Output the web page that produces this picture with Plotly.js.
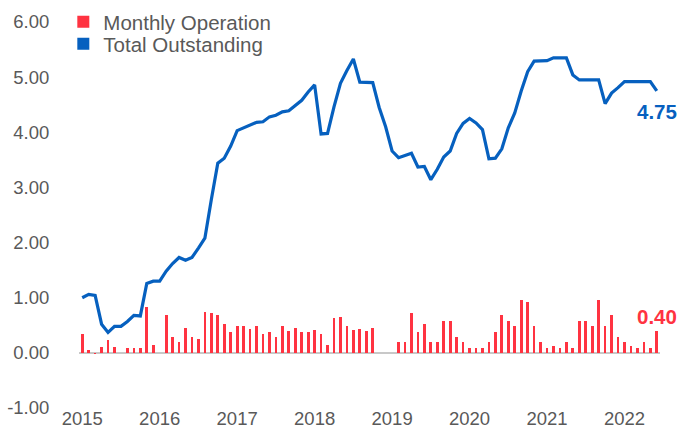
<!DOCTYPE html>
<html>
<head>
<meta charset="utf-8">
<script src="https://cdn.plot.ly/plotly-3.0.1.min.js"></script>
<style>html,body{margin:0;padding:0;background:#fff;}#chart{width:680px;height:432px;}</style>
</head>
<body>
<div id="chart"></div>
<script>
// Categories: months Jan 2015 .. Jun 2022
var startYear = 2015, monthCount = 90;
var months = [];
for (var k = 0; k < monthCount; k++) {
  var yy = startYear + Math.floor(k / 12), mm = (k % 12) + 1;
  months.push(yy + '-' + (mm < 10 ? '0' + mm : mm));
}

var seriesNames = ['Monthly Operation', 'Total Outstanding'];

var monthlyOperation = [
  0.34, 0.06, -0.02, 0.10, 0.24, 0.10, 0.00, 0.08, 0.08, 0.08,
  0.83, 0.14, 0.00, 0.68, 0.28, 0.19, 0.45, 0.28, 0.25, 0.74,
  0.72, 0.69, 0.52, 0.37, 0.48, 0.48, 0.43, 0.48, 0.34, 0.37,
  0.28, 0.48, 0.39, 0.45, 0.37, 0.37, 0.41, 0.34, 0.14, 0.63,
  0.65, 0.49, 0.41, 0.43, 0.39, 0.45, 0.00, 0.00, 0.00, 0.19,
  0.19, 0.72, 0.37, 0.52, 0.19, 0.19, 0.57, 0.57, 0.28, 0.19,
  0.08, 0.08, 0.08, 0.19, 0.37, 0.68, 0.57, 0.48, 0.96, 0.92,
  0.48, 0.19, 0.08, 0.12, 0.08, 0.19, 0.08, 0.57, 0.57, 0.48,
  0.96, 0.48, 0.68, 0.28, 0.19, 0.12, 0.08, 0.19, 0.08, 0.40
];

var totalOutstanding = [
  1.00, 1.06, 1.04, 0.52, 0.37, 0.48, 0.48, 0.57, 0.68, 0.67,
  1.26, 1.30, 1.30, 1.48, 1.62, 1.73, 1.68, 1.73, 1.90, 2.08,
  2.78, 3.44, 3.53, 3.75, 4.03, 4.08, 4.12, 4.18, 4.19, 4.28,
  4.31, 4.37, 4.39, 4.49, 4.58, 4.73, 4.86, 3.97, 3.98, 4.46,
  4.89, 5.12, 5.33, 4.91, 4.90, 4.90, 4.45, 4.10, 3.66, 3.54,
  3.58, 3.62, 3.37, 3.38, 3.14, 3.33, 3.55, 3.66, 3.98, 4.16,
  4.25, 4.17, 4.05, 3.52, 3.53, 3.70, 4.08, 4.35, 4.75, 5.10,
  5.29, 5.29, 5.30, 5.35, 5.35, 5.35, 5.04, 4.95, 4.95, 4.95,
  4.95, 4.52, 4.71, 4.81, 4.92, 4.92, 4.92, 4.92, 4.92, 4.75
];

var yearTickVals = ['2015-01','2016-01','2017-01','2018-01','2019-01','2020-01','2021-01','2022-01'];
var yearTickText = ['2015','2016','2017','2018','2019','2020','2021','2022'];
var yTickVals = [-1, 0, 1, 2, 3, 4, 5, 6];
var yTickText = ['-1.00', '0.00', '1.00', '2.00', '3.00', '4.00', '5.00', '6.00'];

var RED = '#FF3341', BLUE = '#0660BF', GREY = '#595959';
var FONT = 'Liberation Sans, Arial, Helvetica, sans-serif';

var lastIdx = months.length - 1;

var traces = [
  {
    type: 'bar', name: seriesNames[0], x: months, y: monthlyOperation,
    width: 0.42, marker: {color: RED}, showlegend: true, legend: 'legend'
  },
  {
    type: 'scatter', mode: 'lines', name: seriesNames[1], x: months, y: totalOutstanding,
    line: {color: BLUE, width: 3.2}, showlegend: false
  },
  {
    type: 'bar', name: seriesNames[1], x: [null], y: [null],
    marker: {color: BLUE}, showlegend: true, legend: 'legend2', hoverinfo: 'skip'
  }
];

var legendBase = {
  x: -0.027, xanchor: 'left', yanchor: 'top',
  bgcolor: 'rgba(0,0,0,0)', font: {size: 20.5, color: GREY, family: FONT},
  tracegroupgap: 0, itemwidth: 30
};

var layout = {
  width: 680, height: 432,
  margin: {l: 79, r: 20, t: 22, b: 24, pad: 0, autoexpand: false},
  paper_bgcolor: '#ffffff', plot_bgcolor: '#ffffff',
  font: {family: FONT, color: GREY, size: 18.5},
  showlegend: true,
  legend: Object.assign({}, legendBase, {y: 1.052}),
  legend2: Object.assign({}, legendBase, {y: 0.995}),
  bargap: 0,
  xaxis: {
    type: 'category', categoryorder: 'array', categoryarray: months,
    range: [-0.5, lastIdx + 0.5],
    tickmode: 'array', tickvals: yearTickVals, ticktext: yearTickText,
    showgrid: false, zeroline: false, showline: false,
    ticks: '', ticklen: 0, ticklabelstandoff: -3,
    tickfont: {size: 18.5, color: GREY, family: FONT}
  },
  yaxis: {
    range: [-1, 6], tickmode: 'array', tickvals: yTickVals, ticktext: yTickText,
    showgrid: false,
    zeroline: true, zerolinecolor: '#C8C8C8', zerolinewidth: 1.6,
    showline: false, ticks: 'outside', ticklen: 25, tickcolor: 'rgba(0,0,0,0)',
    tickfont: {size: 18.5, color: GREY, family: FONT}
  },
  annotations: [
    {
      x: months[lastIdx], y: totalOutstanding[lastIdx], xref: 'x', yref: 'y',
      text: '<b>' + totalOutstanding[lastIdx].toFixed(2) + '</b>', showarrow: false,
      xanchor: 'center', yanchor: 'middle', xshift: 0, yshift: -21,
      font: {size: 20.5, color: BLUE, family: FONT}
    },
    {
      x: months[lastIdx], y: monthlyOperation[lastIdx], xref: 'x', yref: 'y',
      text: '<b>' + monthlyOperation[lastIdx].toFixed(2) + '</b>', showarrow: false,
      xanchor: 'center', yanchor: 'middle', xshift: 0, yshift: 14,
      font: {size: 20.5, color: RED, family: FONT}
    }
  ]
};

Plotly.newPlot('chart', traces, layout, {displayModeBar: false, staticPlot: true});
</script>
</body>
</html>
